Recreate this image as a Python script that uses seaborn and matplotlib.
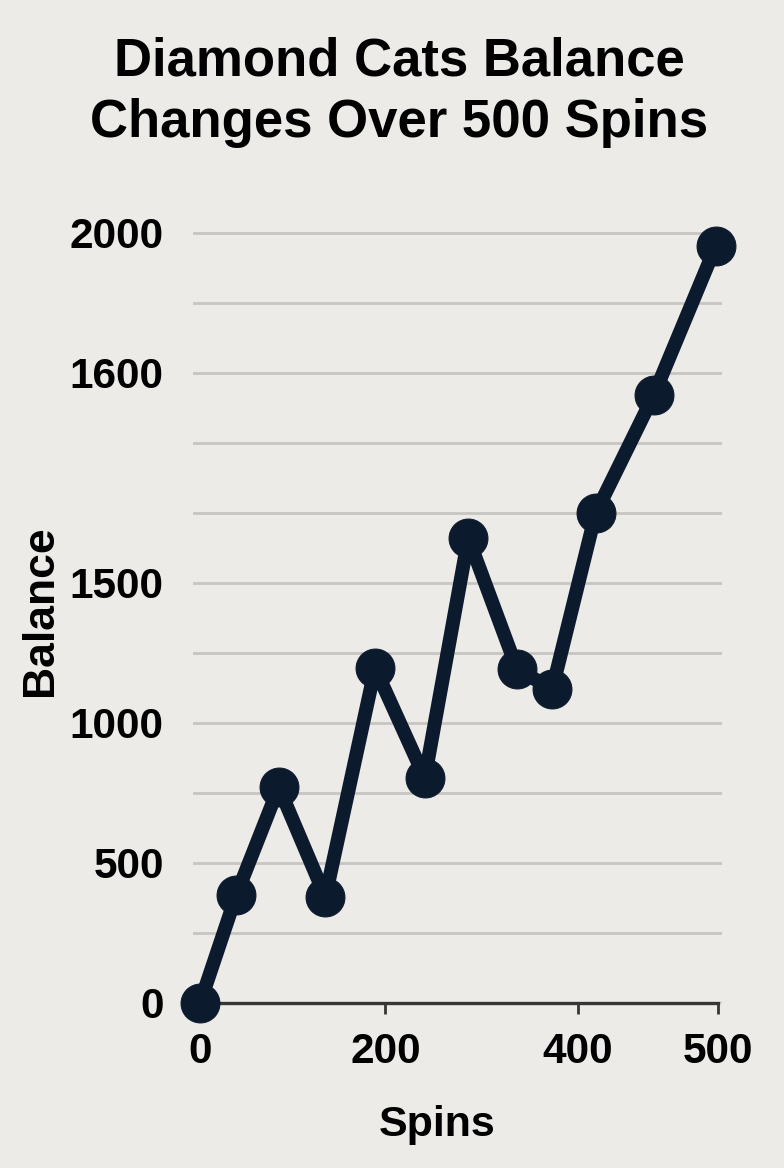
import pandas as pd
import seaborn as sns
import matplotlib.pyplot as plt

# values (axis units as drawn)
spins = [0, 35, 76, 121, 169, 217, 259, 306, 340, 382, 438, 498]
balance = [0, 386, 771, 379, 1196, 804, 1661, 1193, 1121, 1750, 2171, 2704]

x_tick_pos = [0, 179, 365, 500]
x_tick_labels = ['0', '200', '400', '500']
y_grid_pos = [0, 250, 500, 750, 1000, 1250, 1500, 1750, 2000, 2250, 2500, 2750]
y_tick_labels = ['0', '', '500', '', '1000', '', '1500', '', '', '1600', '', '2000']

bg = '#ecebe7'
navy = '#0c1a2d'


def main():
    sns.set_theme(style="whitegrid")
    plt.rcParams['font.family'] = ['Liberation Sans', 'DejaVu Sans']
    plt.rcParams['font.weight'] = 'bold'

    df = pd.DataFrame({'Spins': spins, 'Balance': balance})

    fig = plt.figure(figsize=(7.84, 11.68), dpi=100, facecolor=bg)
    ax = fig.add_axes([0.2462, 0.14127, 0.6747, 0.67123])
    ax.set_facecolor(bg)

    sns.lineplot(data=df, x='Spins', y='Balance', ax=ax, color=navy,
                 linewidth=10, marker='o', markersize=28,
                 markeredgecolor=navy, clip_on=False, zorder=5)

    ax.set_xlim(-6.8, 503.9)
    ax.set_ylim(0, 2800)

    ax.set_yticks(y_grid_pos, y_tick_labels)
    ax.set_xticks(x_tick_pos, x_tick_labels)
    ax.grid(False)
    ax.yaxis.grid(True, color='#c6c5c2', linewidth=2)

    for s in ['left', 'right', 'top']:
        ax.spines[s].set_visible(False)
    ax.spines['bottom'].set_color('#363636')
    ax.spines['bottom'].set_linewidth(2.4)
    ax.spines['bottom'].set_bounds(0, 500)
    ax.spines['bottom'].set_zorder(3)

    ax.tick_params(axis='y', length=0, pad=21, labelsize=30.5, labelcolor='black')
    ax.tick_params(axis='x', bottom=True, direction='out', length=8, width=2,
                   color='#363636', pad=13, labelsize=30.5, labelcolor='black')

    ax.set_xlabel('Spins', fontsize=31, fontweight='bold', color='black')
    ax.xaxis.label.set_va('center')
    ax.xaxis.set_label_coords(0.461, -0.156)
    ax.set_ylabel('Balance', fontsize=32, fontweight='bold', color='black')
    ax.yaxis.label.set_va('center')
    ax.yaxis.set_label_coords(-0.289, 0.501)

    fig.text(0.509, 0.921, 'Diamond Cats Balance\nChanges Over 500 Spins',
             ha='center', va='center', fontsize=38, fontweight='bold',
             linespacing=1.3, color='black')

    fig.savefig('out.png', dpi=100, facecolor=bg)


if __name__ == "__main__":
    main()
